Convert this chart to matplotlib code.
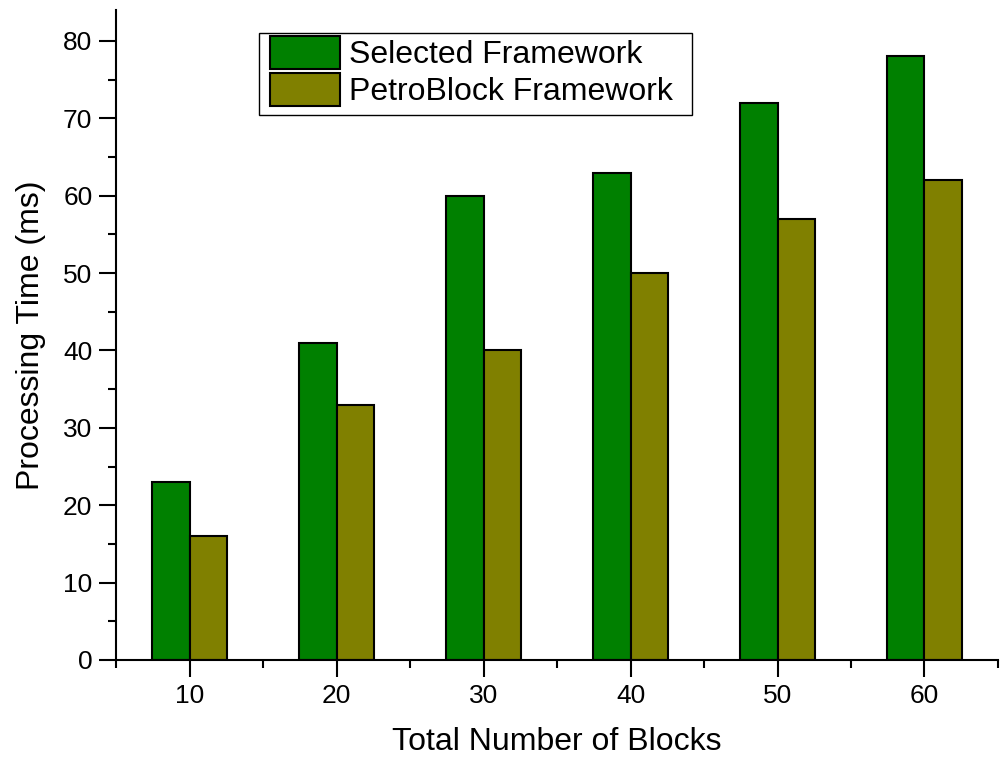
import matplotlib
matplotlib.use("Agg")
import matplotlib.pyplot as plt
import numpy as np
from matplotlib.ticker import MultipleLocator
from matplotlib.patches import Rectangle

plt.rcParams['font.family'] = ['Liberation Sans', 'DejaVu Sans']

blocks = [10, 20, 30, 40, 50, 60]
selected = [23, 41, 60, 63, 72, 78]
petro = [16, 33, 40, 50, 57, 62]

W, H = 1002, 758
fig = plt.figure(figsize=(W / 100, H / 100), dpi=100)
ax = fig.add_axes([0.1158, 0.1293, 0.996 - 0.1158, 0.9868 - 0.1293])

x = np.array(blocks, dtype=float)
w = 2.55
ax.bar(x - w / 2, selected, width=w, color='#008000', edgecolor='black', linewidth=1.5, label='Selected Framework')
ax.bar(x + w / 2, petro, width=w, color='#808000', edgecolor='black', linewidth=1.5, label='PetroBlock Framework')

ax.set_xlim(5, 65)
ax.set_ylim(0, 84)
ax.xaxis.set_major_locator(MultipleLocator(10))
ax.xaxis.set_minor_locator(MultipleLocator(5))
ax.yaxis.set_major_locator(MultipleLocator(10))
ax.yaxis.set_minor_locator(MultipleLocator(5))
for s in ['top', 'right']:
    ax.spines[s].set_visible(False)
for s in ['left', 'bottom']:
    ax.spines[s].set_linewidth(1.5)
ax.tick_params(which='major', direction='out', length=12, width=1.5, labelsize=19, pad=5)
ax.tick_params(which='minor', direction='out', length=6, width=1.5)

ax.set_xlabel('Total Number of Blocks', fontsize=23, labelpad=14)
ax.set_ylabel('Processing Time (ms)', fontsize=23, labelpad=12)

# legend frame drawn separately
frame = Rectangle((259 / W, 1 - 115 / H), (692 - 259) / W, (115 - 33) / H,
                  transform=fig.transFigure, facecolor='white', edgecolor='black',
                  linewidth=1.0, zorder=5, clip_on=False)
ax.add_patch(frame)
leg = ax.legend(loc='upper left', bbox_to_anchor=(270 / W, 1 - 36 / H), bbox_transform=fig.transFigure,
                fontsize=23, frameon=False,
                handlelength=2.2, handleheight=1.2, labelspacing=0.1, borderpad=0, handletextpad=0.28,
                borderaxespad=0)
leg.set_zorder(6)

fig.savefig('out.png', dpi=100)
